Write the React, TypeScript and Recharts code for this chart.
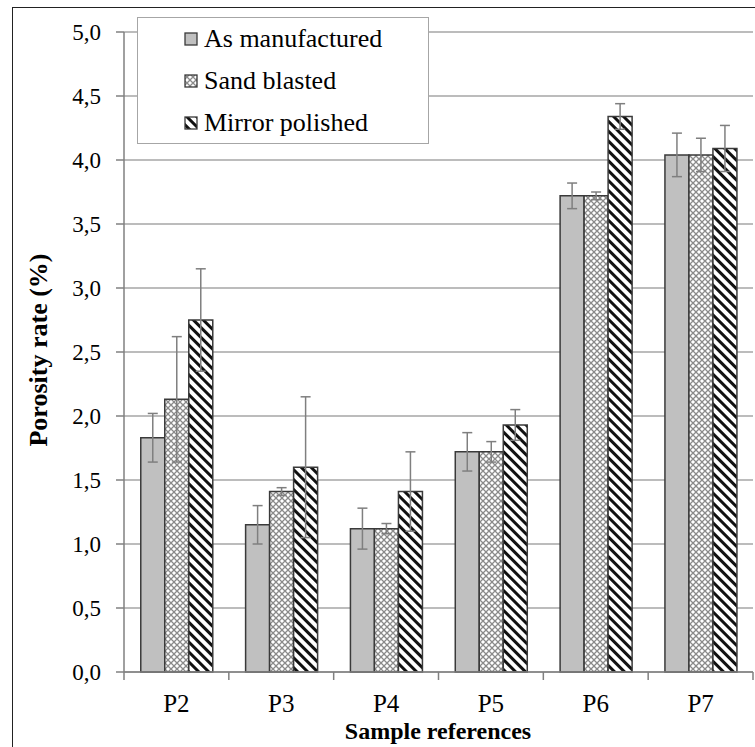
import { BarChart, Bar, XAxis, YAxis, CartesianGrid, ErrorBar } from 'recharts'

const categories = ['P2', 'P3', 'P4', 'P5', 'P6', 'P7']
const asManufactured = [1.83, 1.15, 1.12, 1.72, 3.72, 4.04]
const asManufacturedErr = [0.19, 0.15, 0.16, 0.15, 0.1, 0.17]
const sandBlasted = [2.13, 1.41, 1.12, 1.72, 3.72, 4.04]
const sandBlastedErr = [0.49, 0.03, 0.04, 0.08, 0.03, 0.13]
const mirrorPolished = [2.75, 1.6, 1.41, 1.93, 4.34, 4.09]
const mirrorPolishedErr = [0.4, 0.55, 0.31, 0.12, 0.1, 0.18]
const yTicks = [0, 0.5, 1, 1.5, 2, 2.5, 3, 3.5, 4, 4.5, 5]

const series = [
  { key: 'am', err: 'amErr', name: 'As manufactured', pattern: null },
  { key: 'sb', err: 'sbErr', name: 'Sand blasted', pattern: 'sand' },
  { key: 'mp', err: 'mpErr', name: 'Mirror polished', pattern: 'stripes' },
]

const data = categories.map((c, i) => ({
  name: c,
  am: asManufactured[i],
  amErr: asManufacturedErr[i],
  sb: sandBlasted[i],
  sbErr: sandBlastedErr[i],
  mp: mirrorPolished[i],
  mpErr: mirrorPolishedErr[i],
}))

const FONT = 'Liberation Serif'
const W = 755
const H = 747
const LEFT = 124
const RIGHT_M = 2
const TOP = 32
const X_H = 75
const PLOT_BOTTOM = H - X_H
const band = (W - RIGHT_M - LEFT) / categories.length

function Patterns({ prefix }: { prefix: string }) {
  return (
    <defs>
      <pattern id={prefix + 'sand'} width="6" height="6" patternUnits="userSpaceOnUse">
        <rect width="6" height="6" fill="#ffffff" />
        <path d="M0,0 L6,6 M6,0 L0,6" stroke="#8a8a8a" strokeWidth="1.3" />
      </pattern>
      <pattern id={prefix + 'stripes'} width="7" height="7" patternUnits="userSpaceOnUse" patternTransform="rotate(-45)">
        <rect width="7" height="7" fill="#ffffff" />
        <line x1="1.5" y1="0" x2="1.5" y2="7" stroke="#111111" strokeWidth="3" />
      </pattern>
    </defs>
  )
}

const fillFor = (prefix: string, pattern: string | null) =>
  pattern ? `url(#${prefix}${pattern})` : '#c0c0c0'

function XTick(props: any) {
  const { x, payload, index } = props
  return (
    <g>
      <line x1={x + band / 2} x2={x + band / 2} y1={PLOT_BOTTOM} y2={PLOT_BOTTOM + 8} stroke="#808080" strokeWidth={1.5} />
      {index === 0 && (
        <line x1={x - band / 2} x2={x - band / 2} y1={PLOT_BOTTOM} y2={PLOT_BOTTOM + 8} stroke="#808080" strokeWidth={1.5} />
      )}
      <text x={x} y={PLOT_BOTTOM + 40} textAnchor="middle" fontFamily={FONT} fontSize={25} fill="#000">
        {payload.value}
      </text>
    </g>
  )
}

function YTick(props: any) {
  const { x, y, payload } = props
  return (
    <text x={x} y={y} dy={7.5} textAnchor="end" fontFamily={FONT} fontSize={23} fill="#000">
      {payload.value.toFixed(1).replace('.', ',')}
    </text>
  )
}

export default function App() {
  return (
    <div style={{ position: 'absolute', left: 0, top: 0, width: W, height: H, background: '#fff', overflow: 'hidden', fontFamily: FONT }}>
      <div style={{ position: 'absolute', left: 12, top: 7, width: W, height: H, borderTop: '1.5px solid #222', borderLeft: '1.5px solid #222' }} />
      <BarChart
        width={W}
        height={H}
        data={data}
        margin={{ top: TOP, right: RIGHT_M, left: 0, bottom: 0 }}
        barCategoryGap="16%"
        barGap={0}
      >
        <Patterns prefix="c-" />
        <CartesianGrid vertical={false} stroke="#a6a6a6" strokeWidth={1.5} />
        <XAxis
          dataKey="name"
          height={X_H}
          tick={<XTick />}
          tickLine={false}
          tickSize={0}
          axisLine={{ stroke: '#808080', strokeWidth: 1.5 }}
        />
        <YAxis
          width={LEFT}
          domain={[0, 5]}
          ticks={yTicks}
          interval={0}
          tickSize={8}
          tickMargin={15}
          tick={<YTick />}
          tickLine={{ stroke: '#808080', strokeWidth: 1.5 }}
          axisLine={{ stroke: '#808080', strokeWidth: 1.5 }}
        />
        {series.map(s => (
          <Bar
            key={s.key}
            dataKey={s.key}
            name={s.name}
            fill={fillFor('c-', s.pattern)}
            stroke="#3a3a3a"
            strokeWidth={1.5}
            isAnimationActive={false}
          >
            <ErrorBar dataKey={s.err} direction="y" width={5} stroke="#7f7f7f" strokeWidth={1.5} />
          </Bar>
        ))}
      </BarChart>

      <div style={{ position: 'absolute', left: 137, top: 17, width: 292, height: 127, boxSizing: 'border-box', border: '1.5px solid #a6a6a6', background: '#fff' }}>
        {series.map((s, i) => (
          <div key={s.key} style={{ position: 'absolute', left: 46, top: 6 + i * 42, height: 30, display: 'flex', alignItems: 'center', fontSize: 26, lineHeight: '30px', color: '#000', whiteSpace: 'nowrap' }}>
            <svg width="14" height="14" style={{ marginRight: 6 }}>
              <Patterns prefix={'l' + i + '-'} />
              <rect x="1" y="1" width="12" height="12" fill={fillFor('l' + i + '-', s.pattern)} stroke="#3a3a3a" strokeWidth="1.3" />
            </svg>
            <span>{s.name}</span>
          </div>
        ))}
      </div>

      <div style={{ position: 'absolute', left: 39, top: 350, transform: 'translate(-50%, -50%) rotate(-90deg)', fontSize: 26, lineHeight: '30px', fontWeight: 'bold', whiteSpace: 'nowrap', color: '#000' }}>
        Porosity rate (%)
      </div>
      <div style={{ position: 'absolute', left: 438, top: 717, transform: 'translateX(-50%)', fontSize: 24, lineHeight: '28px', fontWeight: 'bold', whiteSpace: 'nowrap', color: '#000' }}>
        Sample references
      </div>
    </div>
  )
}
